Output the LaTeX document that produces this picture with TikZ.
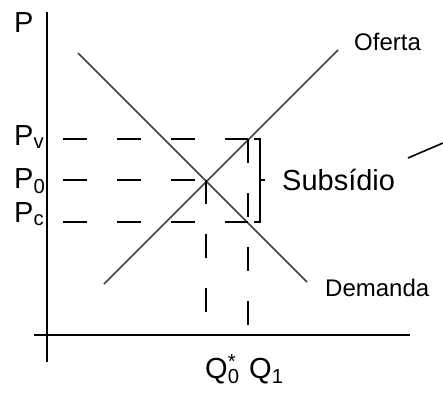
\documentclass[tikz,border=0pt]{standalone}
\usepackage{fontspec}
\setmainfont{Liberation Sans}
\usepackage{tikz}
\usetikzlibrary{positioning, calc}

\begin{document}
\begin{tikzpicture}[
    x=1pt, y=-1pt,
    axis/.style={draw=black, line width=2pt},
    curve/.style={draw=black!75, line width=1.6pt},
    guide/.style={draw=black, line width=1.8pt, dash pattern=on 24pt off 30pt},
    lbl/.style={inner sep=0pt, font=\fontsize{24}{28}\selectfont},
    biglbl/.style={inner sep=0pt, font=\fontsize{29}{32}\selectfont}
]
    \useasboundingbox (0,0) rectangle (443,396);

    % Axes
    \coordinate (ytop) at (47,12);
    \coordinate (ybot) at (47,362);
    \coordinate (xleft) at (34,335);
    \coordinate (xright) at (410,335);
    \draw [axis] (ytop) -- (ybot);
    \draw [axis] (xleft) -- (xright);

    % Supply and demand
    \coordinate (s0) at (104,284);
    \coordinate (s1) at (338,50);
    \coordinate (d0) at (78,53);
    \coordinate (d1) at (307,282);
    \draw [curve] (s0) -- (s1);
    \draw [curve] (d0) -- (d1);

    % Price and quantity points
    \coordinate (eq) at (206,180);
    \coordinate (pv) at (248,139);
    \coordinate (pc) at (248,222);
    \coordinate (q0) at (206,335);
    \coordinate (q1) at (248,335);

    % Dashed guides
    \draw [guide] (63,139) -- (pv);
    \draw [guide] (63,180) -- (eq);
    \draw [guide] (63,222) -- (pc);
    \draw [guide] (eq) -- (q0);
    \draw [guide] (pv) -- (q1);

    % Subsidy bracket
    \draw [line width=1.8pt] (254,139) -- (260,139) -- (260,222) -- (254,222);
    \draw [line width=1.8pt] (260,180) -- (265,180);
    \draw [line width=1.6pt] (408,158) -- (443,143);

    % Labels
    \node (P) [biglbl, anchor=base west] at (14,33) {P};
    \node (Pv) [biglbl, anchor=base west] at (14,145) {P\textsubscript{v}};
    \node (P0) [biglbl, anchor=base west] at (14,188) {P\textsubscript{0}};
    \node (Pc) [biglbl, anchor=base west] at (14,222) {P\textsubscript{c}};
    \node (Q0) [biglbl, anchor=base west] at (205,378) {Q\rlap{\textsuperscript{*}}\textsubscript{0}};
    \node (Q1) [biglbl, anchor=base west] at (249,378) {Q\textsubscript{1}};
    \node (sub) [biglbl, anchor=base west] at (282,190) {Subsídio};
    \node (of) [lbl, anchor=base west] at (354,50) {Oferta};
    \node (dem) [lbl, anchor=base west] at (325,296) {Demanda};

\end{tikzpicture}
\end{document}
